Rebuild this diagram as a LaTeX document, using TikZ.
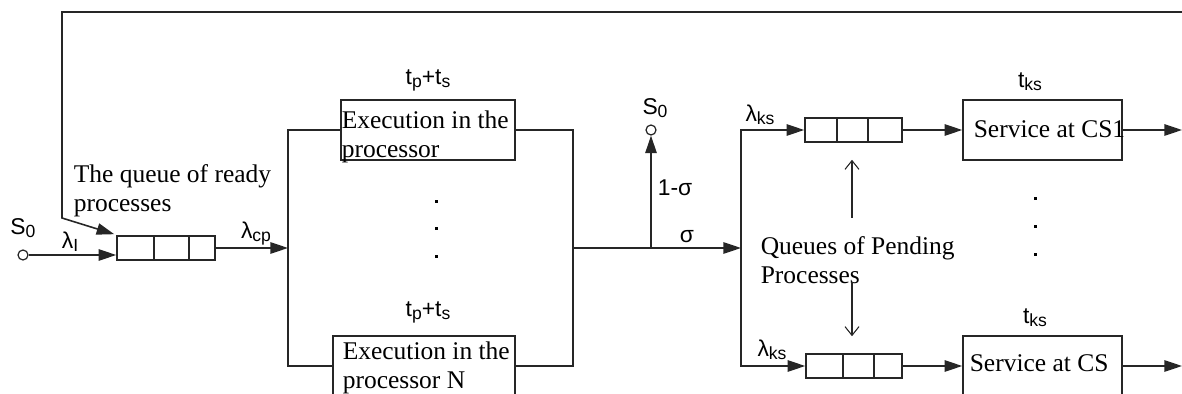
\documentclass[tikz,border=0pt]{standalone}
\usepackage{fontspec}
\setmainfont{Liberation Serif}
\newfontfamily\labfont{Liberation Sans}
\usetikzlibrary{arrows.meta,positioning,calc}

% small lowered index for the sans labels
\newcommand{\sbs}[1]{\raisebox{-0.25ex}{\fontsize{10}{10}\selectfont #1}}

\begin{document}
\begin{tikzpicture}[x=0.02cm, y=-0.02cm, line width=0.9pt, draw=black!85,
    arr/.style={-{Triangle[length=10pt,width=6.5pt]}},
    thinarr/.style={-{Straight Barb[length=5pt,width=8pt]}, line width=0.6pt},
    qbox/.style={draw, rectangle, minimum height=0.48cm, inner sep=0pt},
    procbox/.style={draw, rectangle, minimum height=1.2cm, inner sep=0pt},
    port/.style={draw, circle, fill=white, inner sep=0pt, minimum size=0.2cm, line width=0.7pt},
    txt/.style={font=\fontsize{14.5}{16.5}\selectfont, align=left, inner sep=0pt, anchor=north west},
    lab/.style={font=\labfont\fontsize{13}{13}\selectfont, inner sep=0pt}]
    \useasboundingbox (0,0) rectangle (1182,394);
    \clip (0,0) rectangle (1182,394);

    % Ready queue
    \node[port] (in) at (23,255) {};
    \node[lab] (inS) at (23,228) {S\sbs{0}};
    \node[qbox, minimum width=1.96cm] (q1) at (166,248) {};
    \node[lab] (lamI) at (70,242) {λ\sbs{I}};
    \node[txt] (qtxt) at (73,164) {The queue of ready\\processes};
    \draw[arr] (in) -- (in -| q1.west);
    \coordinate (fbR) at (1182,12);
    \coordinate (fbL) at (62,218);
    \draw[arr] (fbR) -| (fbL) -- ($(q1.north west)+(-2,-1)$);

    % Processors
    \coordinate (fork) at (288,248);
    \draw[arr] (q1.east) -- (fork);
    \node[lab] (lamcp) at (256,234) {λ\sbs{cp}};
    \node[procbox, minimum width=3.48cm] (p1) at (428,130) {};
    \node[txt] (p1t) at (341,110) {Execution in the\\processor};
    \node[procbox, minimum width=3.64cm] (pN) at (424,366) {};
    \node[txt] (pNt) at (342,341) {Execution in the\\processor N};
    \node[lab] (tp1) at (428,80) {t\sbs{p}+t\sbs{s}};
    \node[lab] (tpN) at (428,312) {t\sbs{p}+t\sbs{s}};
    \foreach \y in {202,229,257}
        \fill (434.5,\y-1.5) rectangle (437.5,\y+1.5);
    \draw (fork) |- (p1.west);
    \draw (fork) |- (pN.west);
    \coordinate (join) at (573,248);
    \draw (p1.east) -| (join);
    \draw (pN.east) -| (join);

    % Split to S0 and to the CS queues
    \coordinate (br) at (651,248);
    \coordinate (split) at (741,248);
    \draw[arr] (join) -- (split);
    \node[port] (out) at (651,130) {};
    \node[lab] (outS) at (655,108) {S\sbs{0}};
    \draw[arr] (br) -- (out);
    \node[lab] (sig) at (687,237) {σ};
    \node[lab] (nsig) at (675,188) {1-σ};

    % Pending queues and CS service
    \node[qbox, minimum width=1.94cm] (q2) at (853.5,130) {};
    \node[qbox, minimum width=1.92cm] (q3) at (854,366) {};
    \foreach \q/\a/\b in {q1/38/73, q2/33/64, q3/38/69} {
        \draw ($(\q.north west)+(\a,0)$) -- ($(\q.south west)+(\a,0)$);
        \draw ($(\q.north west)+(\b,0)$) -- ($(\q.south west)+(\b,0)$);
    }
    \draw[arr] (split) |- (q2.west);
    \draw[arr] (split) |- (q3.west);
    \node[lab] (lks1) at (760,115) {λ\sbs{ks}};
    \node[lab] (lks2) at (772,350) {λ\sbs{ks}};

    \node[procbox, minimum width=3.18cm] (cs1) at (1042.5,130) {};
    \node[txt] (cs1t) at (973,120) {Service at CS1};
    \node[procbox, minimum width=3.18cm] (cs) at (1042.5,366) {};
    \node[txt] (cst) at (969,354) {Service at CS};
    \node[lab] (tks1) at (1030,82) {t\sbs{ks}};
    \node[lab] (tks2) at (1035,318) {t\sbs{ks}};
    \foreach \y in {199,227,255}
        \fill (1033.5,\y-1.5) rectangle (1036.5,\y+1.5);
    \draw[arr] (q2.east) -- (cs1.west);
    \draw[arr] (q3.east) -- (cs.west);
    \coordinate (o1) at (1182,130);
    \coordinate (o2) at (1182,366);
    \draw[arr] (cs1.east) -- (o1);
    \draw[arr] (cs.east) -- (o2);

    \node[txt] (pend) at (760,236) {Queues of Pending\\Processes};
    \coordinate (pendUp) at (852,218);
    \coordinate (pendDn) at (852,282);
    \draw[thinarr] (pendUp) -- ($(q2.south)+(-1.5,17)$);
    \draw[thinarr] (pendDn) -- ($(q3.north)+(-2,-17)$);
\end{tikzpicture}
\end{document}
